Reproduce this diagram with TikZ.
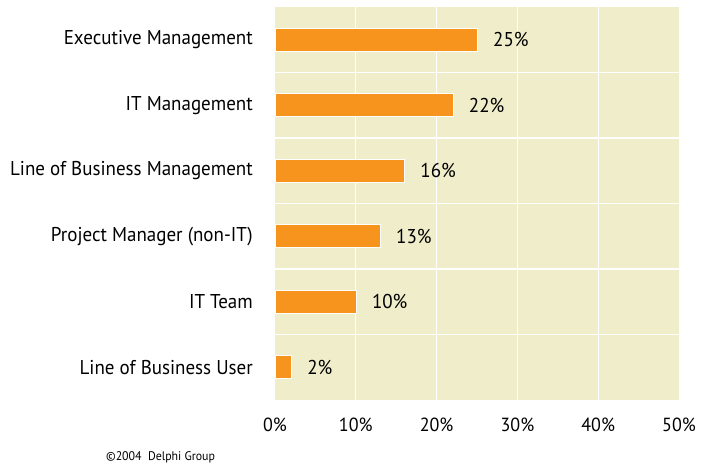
\documentclass[tikz,border=0pt]{standalone}
\usepackage{fontspec}
\setmainfont{PT Sans}[FakeStretch=0.95]
\definecolor{plotbg}{HTML}{EFEDCA}
\definecolor{barorange}{HTML}{F7941E}
\begin{document}
\begin{tikzpicture}[x=1pt,y=-1pt,
  catlabel/.style={anchor=east,inner sep=0pt,font=\fontsize{20}{20}\selectfont},
  vallabel/.style={anchor=west,inner sep=0pt,font=\fontsize{20}{20}\selectfont},
  ticklabel/.style={anchor=center,inner sep=0pt,font=\fontsize{19}{19}\selectfont},
  bar/.style={fill=barorange,draw=white,line width=1pt},
  grid/.style={draw=white,line width=1.2pt}]
\useasboundingbox (0,0) rectangle (711,468);
\fill[plotbg] (275,7) rectangle (679,400);
% vertical gridlines
\foreach \p in {10,20,30,40} {\draw[grid] ({275+8.08*\p},7) -- ({275+8.08*\p},400);}
% horizontal gridlines
\foreach \k in {1,...,5} {\draw[grid] (275,{7+65.5*\k}) -- (679,{7+65.5*\k});}
% bars
\foreach \i/\v/\name/\lab in {0/25/exec/Executive Management,1/22/itm/IT Management,2/16/lob/Line of Business Management,3/13/pm/Project Manager (non-IT),4/10/itt/IT Team,5/2/lobu/Line of Business User} {
  \pgfmathsetmacro{\cy}{7+65.5*(\i+0.5)}
  \node[bar,inner sep=0pt,anchor=west,minimum height=23pt,minimum width={8.08pt*\v}] (b\name) at (275,\cy) {};
  \node[vallabel] (v\name) at ([xshift=15pt]b\name.east) {\v\%};
  \node[catlabel] (c\name) at (253,\cy) {\lab};
}
% axis tick labels
\foreach \p in {0,10,20,30,40,50} {\node[ticklabel] (t\p) at ({275+8.08*\p},425) {\p\%};}
\node[anchor=west,inner sep=0pt,font=\fontsize{12.5}{12.5}\selectfont] (copy) at (106,457) {©2004\ \ Delphi Group};
\end{tikzpicture}
\end{document}
